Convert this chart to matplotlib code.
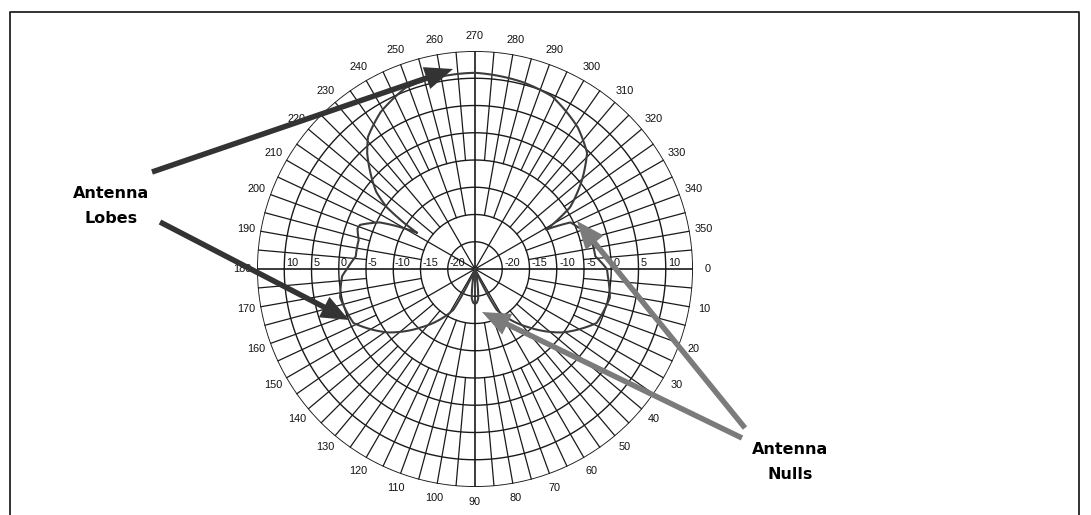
import numpy as np
import matplotlib
matplotlib.use("Agg")
import matplotlib.pyplot as plt
from matplotlib.patches import FancyArrow

# ---------------- data ----------------
# antenna pattern: bearing (deg, clockwise from east, 270 = up) and level (dB)
bearing_deg = [90, 93, 96, 99, 102, 105, 112, 115, 118, 133, 144, 156, 168,
               177, 180, 186, 194, 199, 201, 206, 212, 213, 215, 218, 221,
               227, 231, 239, 249, 256, 270, 284, 294, 306, 314, 320, 327,
               330, 331, 334, 338, 342, 346, 354, 360, 363, 372, 384, 396,
               407, 422, 425, 428, 435, 438, 441, 444, 447, 450]
level_db = [-18.6, -18.8, -19.5, -21.7, -23.9, -25.0, -25.0, -22.0, -16.5,
            -10.3, -5.2, -0.6, 0.3, -0.6, -1.5, -3.0, -3.0, -2.2, -2.4,
            -5.5, -12.5, -9.5, -5.2, -2.0, 0.0, 4.0, 6.2, 8.6, 10.6, 10.8,
            11.0, 10.4, 9.7, 7.1, 4.6, 0.7, -4.2, -8.4, -10.1, -5.5, -4.6,
            -2.6, -3.0, -2.8, -0.8, -0.6, 0.3, -0.6, -5.2, -10.3, -16.5,
            -22.0, -25.0, -25.0, -23.9, -21.7, -19.5, -18.8, -18.6]

ring_levels = [-20, -15, -10, -5, 0, 5, 10, 15]
left_label_levels = [10, 5, 0, -5, -10, -15, -20]
right_label_levels = [-20, -15, -10, -5, 0, 5, 10]
angle_ticks = list(range(0, 360, 10))
r_min, r_max = -25, 15

# ---------------- figure ----------------
W, H = 1091, 515
fig = plt.figure(figsize=(W / 100, H / 100), dpi=100)
fig.patch.set_facecolor("white")

cx, cy, R = 475, 269, 218
ax = fig.add_axes([(cx - R) / W, (H - cy - R) / H, 2 * R / W, 2 * R / H],
                  projection="polar")
ax.set_theta_zero_location("E")
ax.set_theta_direction(-1)
ax.set_ylim(r_min, r_max)
ax.grid(False)
ax.set_xticks([])
ax.set_yticks([])
ax.spines["polar"].set_visible(False)

grid_col = "#1a1a1a"
th = np.linspace(0, 2 * np.pi, 721)
for lv in ring_levels:
    ax.plot(th, np.full_like(th, lv), color=grid_col,
            lw=1.3 if lv == r_max else 1.0)

for a in range(0, 360, 5):
    if a % 30 == 0:
        start = r_min
    elif a % 10 == 0:
        start = -15
    else:
        start = -5
    lw = 1.2 if a % 90 == 0 else 0.9
    ax.plot([np.deg2rad(a)] * 2, [start, r_max], color=grid_col, lw=lw)

# pattern (drawn as arcs in polar space between read points)
pat, = ax.plot(np.deg2rad(bearing_deg), level_db, color="#3c3c3c", lw=1.5,
               zorder=5)
pat.get_path()._interpolation_steps = 24

lab_font = ["Liberation Sans Narrow", "Liberation Sans", "DejaVu Sans"]
for lv in left_label_levels:
    ax.annotate(str(lv), xy=(np.pi, lv), xytext=(1.2, 0.6),
                textcoords="offset points", ha="left", va="bottom",
                fontsize=7.8, family=lab_font, color="#111")
for lv in right_label_levels:
    ax.annotate(str(lv), xy=(0.0, lv), xytext=(1.8, 0.6),
                textcoords="offset points", ha="left", va="bottom",
                fontsize=7.8, family=lab_font, color="#111")

for a in angle_ticks:
    ax.text(np.deg2rad(a), 17.7, str(a), ha="center", va="center",
            fontsize=7.8, family=lab_font, color="#111", clip_on=False)

# ---------------- annotation overlay ----------------
ov = fig.add_axes([0, 0, 1, 1], zorder=10)
ov.set_xlim(0, W)
ov.set_ylim(H, 0)
ov.axis("off")
ov.patch.set_alpha(0)

ov.plot([10, 10, 1079, 1079], [H + 5, 12, 12, H + 5], color="#222",
        lw=1.3, clip_on=False)


def arrow(x0, y0, x1, y1, col):
    ov.add_patch(FancyArrow(x0, y0, x1 - x0, y1 - y0, width=5.5,
                            head_width=23, head_length=28,
                            length_includes_head=True, color=col, lw=0))


dark, grey = "#333333", "#7b7b7b"
arrow(152, 172, 453, 69, dark)
arrow(160, 222, 349, 320, dark)
arrow(742, 438, 482, 312, grey)
arrow(745, 428, 577, 221, grey)

ov.text(111, 206, "Antenna\nLobes", ha="center", va="center",
        fontsize=11.5, fontweight="bold", family="DejaVu Sans",
        linespacing=1.85, color="#000")
ov.text(790, 462, "Antenna\nNulls", ha="center", va="center",
        fontsize=11.5, fontweight="bold", family="DejaVu Sans",
        linespacing=1.8, color="#000")

fig.savefig("out.png", dpi=100, facecolor="white")
